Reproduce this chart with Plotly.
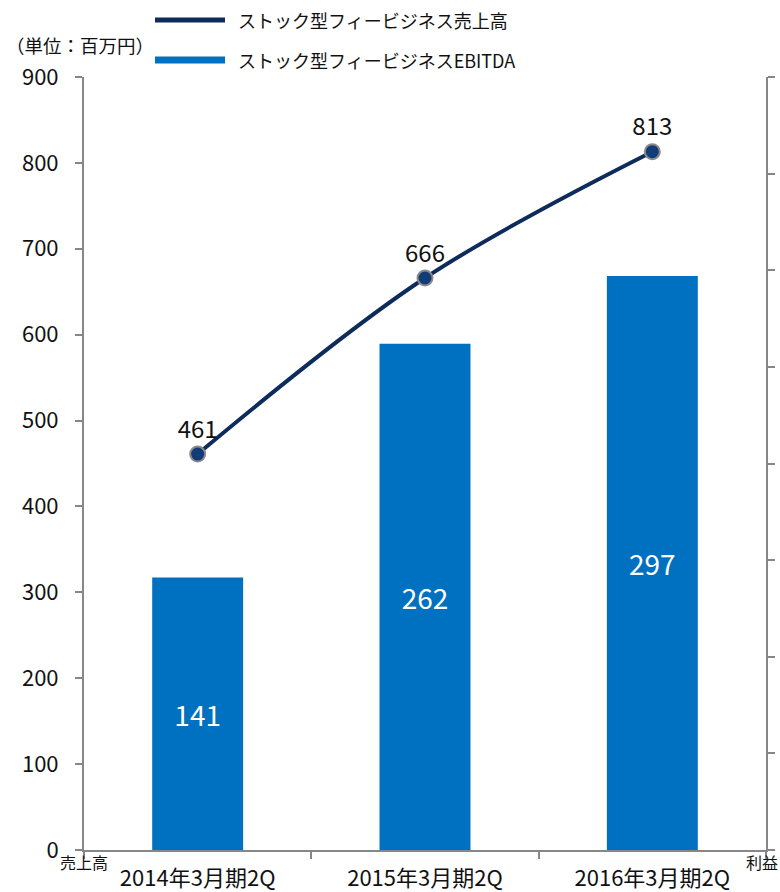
import plotly.graph_objects as go

categories = ["2014年3月期2Q", "2015年3月期2Q", "2016年3月期2Q"]
sales = [461, 666, 813]
ebitda = [141, 262, 297]
series_names = ["ストック型フィービジネス売上高", "ストック型フィービジネスEBITDA"]
unit_label = "（単位：百万円）"
left_axis_label = "売上高"
right_axis_label = "利益"

NAVY = "#0D2C5C"
BLUE = "#0070C0"
AXIS = "#878787"
FONT = "Noto Sans CJK JP, Noto Sans, sans-serif"

W, H = 780, 892
L, R, T, B = 84, 14, 77, 42
ph = H - T - B
pw = W - L - R

def py(ypx):
    return (H - B - ypx) / ph

def px(xpx):
    return (xpx - L) / pw

fig = go.Figure()
fig.add_trace(go.Bar(
    x=categories, y=ebitda, name=series_names[1], yaxis="y2",
    marker=dict(color=BLUE, line=dict(width=0)),
    text=[str(v) for v in ebitda], textposition="inside", insidetextanchor="middle",
    textfont=dict(color="white", size=28, family=FONT),
    showlegend=False,
))
fig.add_trace(go.Scatter(
    x=categories, y=sales, name=series_names[0], yaxis="y",
    mode="lines+markers+text",
    line=dict(color=NAVY, width=4, shape="spline", smoothing=1),
    marker=dict(size=15, color="#123C78", line=dict(color="#8A8A8A", width=2)),
    text=[str(v) for v in sales], textposition="top center",
    textfont=dict(color="#111111", size=24, family=FONT),
    showlegend=False,
))

fig.update_layout(
    width=W, height=H,
    margin=dict(l=L, r=R, t=T, b=B, pad=0, autoexpand=False),
    paper_bgcolor="white", plot_bgcolor="white",
    font=dict(family=FONT, color="#111111"),
    bargap=0.6,
    xaxis=dict(
        type="category", showline=True, linecolor=AXIS, linewidth=2,
        ticks="outside", tickson="boundaries", ticklen=7, tickcolor=AXIS, tickwidth=2,
        tickfont=dict(size=22, family=FONT, color="#111111"),
        showgrid=False, zeroline=False, ticklabelstandoff=8, automargin=False,
    ),
    yaxis=dict(
        range=[0, 900], dtick=100, showline=True, linecolor=AXIS, linewidth=2,
        ticks="outside", ticklen=7, tickcolor=AXIS, tickwidth=2,
        tickfont=dict(size=22, family=FONT, color="#111111"),
        showgrid=False, zeroline=False, ticklabelstandoff=12, automargin=False,
    ),
    yaxis2=dict(
        range=[0, 400], dtick=50, overlaying="y", side="right",
        showline=True, linecolor=AXIS, linewidth=2,
        ticks="outside", ticklen=7, tickcolor=AXIS, tickwidth=2,
        showticklabels=False, showgrid=False, zeroline=False, automargin=False,
    ),
)

# legend drawn as samples + labels
leg_y = [py(20), py(60)]
leg_colors = [NAVY, BLUE]
leg_widths = [5, 7]
for i in range(2):
    fig.add_shape(type="line", xref="paper", yref="paper",
                  x0=px(155), x1=px(225), y0=leg_y[i], y1=leg_y[i],
                  line=dict(color=leg_colors[i], width=leg_widths[i]))
    fig.add_annotation(xref="paper", yref="paper", x=px(236), y=leg_y[i],
                       text=series_names[i], showarrow=False,
                       xanchor="left", yanchor="middle",
                       font=dict(size=18, family=FONT, color="#111111"))

fig.add_annotation(xref="paper", yref="paper", x=px(4), y=py(45),
                   text=unit_label, showarrow=False, xanchor="left", yanchor="middle",
                   font=dict(size=18.5, family=FONT, color="#111111"))
fig.add_annotation(xref="paper", yref="paper", x=px(84), y=py(862),
                   text=left_axis_label, showarrow=False, xanchor="center", yanchor="middle",
                   font=dict(size=16, family=FONT, color="#111111"))
fig.add_annotation(xref="paper", yref="paper", x=px(762), y=py(862),
                   text=right_axis_label, showarrow=False, xanchor="center", yanchor="middle",
                   font=dict(size=16, family=FONT, color="#111111"))

fig.write_html("out.html", config={"displayModeBar": False},
               post_script="document.body.style.margin='0';document.body.style.overflow='hidden';")
